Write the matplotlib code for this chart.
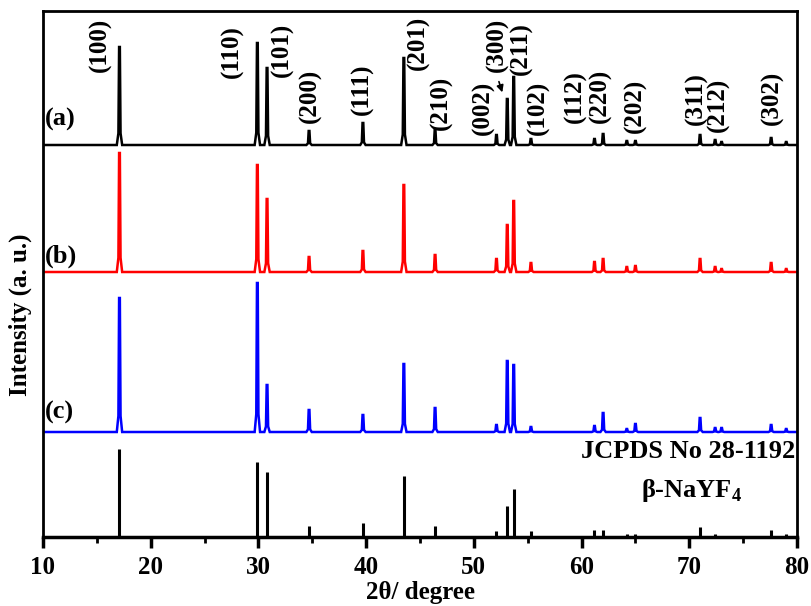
import matplotlib
matplotlib.use("Agg")
import matplotlib.pyplot as plt
import numpy as np

plt.rcParams['font.family'] = ['Liberation Serif', 'DejaVu Serif']
plt.rcParams['font.weight'] = 'bold'
plt.rcParams['mathtext.fontset'] = 'custom'
plt.rcParams['mathtext.rm'] = 'Liberation Serif:bold'
plt.rcParams['mathtext.bf'] = 'Liberation Serif:bold'

# ---- data ----
peak_pos = [17.1, 29.9, 30.8, 34.7, 39.7, 43.5, 46.4, 52.1, 53.1, 53.7,
            55.3, 61.2, 62.0, 64.2, 65.0, 71.0, 72.4, 73.0, 77.6, 79.0]
int_a = [98, 102, 77, 14, 22, 87, 15, 10, 46, 68, 6, 6, 11, 4, 4, 10, 5, 3, 7, 3]
int_b = [119, 107, 73, 15, 21, 87, 17, 13, 47, 71, 9, 10, 13, 5, 6, 13, 5, 3, 9, 3]
int_c = [134, 149, 47, 22, 17, 68, 24, 7, 71, 67, 5, 6, 19, 3, 8, 14, 4, 4, 7, 3]
int_ref = [88, 75, 65, 11, 14, 61, 11, 6, 31, 48, 6, 7, 7, 3, 3, 10, 3.5, 1.5, 7, 3]

offset_a, offset_b, offset_c = 392, 265, 105

hkl_labels = ['(100)', '(110)', '(101)', '(200)', '(111)', '(201)', '(210)', '(002)',
              '(300)', '(211)', '(102)', '(112)', '(220)', '(202)', '(311)', '(212)', '(302)']
hkl_x = [15.3, 27.55, 32.2, 34.8, 39.6, 44.8, 47.0, 50.85, 52.15, 54.45,
         55.95, 59.4, 61.7, 64.95, 70.7, 72.65, 77.7]
hkl_y = [465, 459, 460, 414, 422, 467, 407, 402, 465, 462, 402, 414, 414, 404, 412, 405, 412]

sample_labels = ['(a)', '(b)', '(c)']
sample_y = [418, 281, 125]

# ---- figure ----
fig = plt.figure(figsize=(8.11, 6.06), dpi=100)
ax = fig.add_axes([43/811, 1-537/606, (797-43)/811, (537-11)/606])

def profile(pos, ints):
    xs, ys = [10.0], [0.0]
    for p, h in zip(pos, ints):
        xs += [p - 0.25, p - 0.1, p - 0.035, p + 0.035, p + 0.1, p + 0.25]
        ys += [0.0, 0.12 * h, h, h, 0.12 * h, 0.0]
    xs.append(80.0); ys.append(0.0)
    return np.array(xs), np.array(ys)

for ints, off, col in [(int_a, offset_a, 'black'), (int_b, offset_b, '#ff0000'),
                       (int_c, offset_c, '#0000ff')]:
    xs, ys = profile(peak_pos, ints)
    ax.plot(xs, ys + off, color=col, lw=1.8, solid_joinstyle='miter')

ax.vlines(peak_pos, 0, int_ref, color='black', lw=2.2)

for t, x, y in zip(hkl_labels, hkl_x, hkl_y):
    ax.text(x, y, t, rotation=90, ha='center', va='bottom', fontsize=18, fontweight='bold')

ax.annotate('', xy=(52.72, 442), xytext=(52.25, 458),
            arrowprops=dict(arrowstyle='-|>', color='black', lw=1.2, mutation_scale=10))

for t, y in zip(sample_labels, sample_y):
    ax.text(10.2, y, t, ha='left', va='center', fontsize=19, fontweight='bold')

ax.text(79.8, 85, 'JCPDS No 28-1192', ha='right', va='center', fontsize=19, fontweight='bold')
ax.text(70.25, 47, r'β-NaYF$_{4}$', ha='center', va='center', fontsize=19, fontweight='bold')

ax.set_xlim(10, 80)
ax.set_ylim(0, 526)
ax.set_xticks(np.arange(10, 81, 10))
ax.set_xticks(np.arange(15, 80, 10), minor=True)
ax.set_yticks([])
ax.tick_params(axis='x', which='major', direction='out', length=8, width=2.5,
               labelsize=18, pad=6)
ax.tick_params(axis='x', which='minor', direction='out', length=4, width=2)
for lab in ax.get_xticklabels():
    lab.set_fontweight('bold')
for s in ax.spines.values():
    s.set_linewidth(2)
ax.spines['bottom'].set_linewidth(2.5)

ax.set_xlabel('2θ/ degree', fontsize=18, fontweight='bold', labelpad=1)
fig.text(20/811, 1-315/606, 'Intensity (a. u.)', rotation=90, ha='center', va='center',
         fontsize=18, fontweight='bold')

fig.savefig('out.png', dpi=100)
